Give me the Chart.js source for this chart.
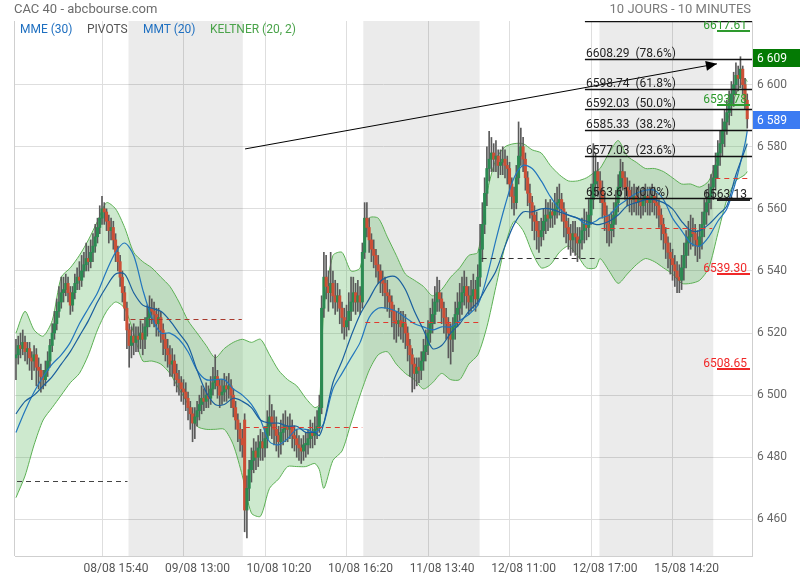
<!DOCTYPE html>
<html>
<head>
<meta charset="utf-8">
<title>CAC 40 - 10 jours</title>
<script src="https://cdn.jsdelivr.net/npm/chart.js"></script>
<style>
  body { margin: 0; background: #fff; font-family: Roboto, sans-serif; }
  #wrap { position: relative; width: 800px; height: 580px; }
  #wrap canvas { position: absolute; left: 0; top: 0; }
  .txt { position: absolute; white-space: pre; line-height: normal; }
  #title { left: 14px; top: 1px; font-size: 13px; color: #6c6c6c; }
  #period { right: 49px; top: 1px; font-size: 13px; color: #7a7a7a; }
  .leg { top: 22px; font-size: 12px; }
</style>
</head>
<body>
<div id="wrap">
  <canvas id="chart" width="800" height="580"></canvas>
  <div class="txt" id="title">CAC 40 - abcbourse.com</div>
  <div class="txt" id="period">10 JOURS - 10 MINUTES</div>
  <div class="txt leg" style="left:20px;color:#1e6fc0">MME (30)</div>
  <div class="txt leg" style="left:87px;color:#555">PIVOTS</div>
  <div class="txt leg" style="left:143px;color:#1e6fc0">MMT (20)</div>
  <div class="txt leg" style="left:210px;color:#4aa34a">KELTNER (20, 2)</div>
</div>

<script>
// candle index of the first bar (10 minute bars counted from 08/08 09:00)
const firstIdx = 2;

const closes = [
  // 08/08
  6513,6516,6515,6517,6514,6515,6512,6511,6513,6509,
  6508,6506,6505,6508,6511,6516,6520,6523,6527,6530,
  6533,6534,6536,6533,6529,6533,6536,6538,6537,6540,
  6542,6544,6543,6546,6548,6551,6554,6557,6560,6559,
  6556,6553,6554,6550,6546,6543,6538,6533,6528,6521,
  // 09/08
  6516,6519,6517,6519,6518,6520,6518,6522,6525,6528,
  6527,6526,6523,6525,6521,6518,6515,6513,6510,6511,
  6507,6505,6504,6502,6501,6499,6496,6494,6491,6493,
  6495,6497,6499,6498,6500,6499,6502,6504,6506,6503,
  6500,6501,6503,6502,6503,6500,6496,6492,6489,6486,
  6484,
  // 10/08
  6463,6470,6476,6479,6482,6480,6483,6485,6483,6486,
  6490,6493,6491,6489,6487,6485,6488,6489,6490,6489,
  6490,6487,6486,6484,6483,6482,6484,6484,6486,6488,
  6487,6489,6490,6496,6528,6538,6535,6533,6536,6532,
  6530,6532,6528,6525,6522,6524,6527,6530,6533,6530,
  6532,6530,6546,
  // 11/08
  6557,6554,6550,6547,6545,6542,6540,6537,6536,6533,
  6532,6530,6527,6524,6523,6524,6522,6523,6520,6516,
  6513,6510,6507,6509,6508,6511,6514,6516,6520,6523,
  6526,6530,6533,6531,6528,6525,6523,6520,6518,6522,
  6526,6528,6530,6533,6535,6532,6530,6532,6534,6531,
  6538,6547,
  // 12/08
  6555,6565,6573,6576,6578,6576,6577,6574,6575,6576,
  6574,6573,6568,6564,6562,6570,6577,6580,6576,6570,
  6565,6562,6558,6556,6553,6551,6553,6556,6558,6557,
  6559,6558,6560,6562,6563,6560,6556,6554,6552,6550,
  6552,6551,6549,6550,6553,6555,6554,6558,6563,6568,
  6572,6569,
  // 15/08
  6566,6562,6558,6555,6553,6555,6558,6562,6567,6572,
  6570,6567,6566,6564,6563,6564,6562,6563,6561,6563,
  6564,6562,6563,6564,6562,6561,6558,6555,6552,6549,
  6546,6544,6542,6540,6538,6537,6541,6545,6549,6551,
  6553,6552,6550,6548,6551,6555,6559,6562,6564,6567,
  6570,6574,
  // 16/08
  6578,6581,6585,6588,6591,6594,6597,6600,6603,6602,
  6605,6600,6595,6589
];

const opens = [
  // 08/08
  6512,6513,6516,6515,6517,6514,6515,6512,6511,6513,
  6509,6508,6506,6505,6508,6511,6516,6520,6523,6527,
  6530,6533,6534,6536,6533,6529,6533,6536,6538,6537,
  6540,6542,6544,6543,6546,6548,6551,6554,6557,6560,
  6559,6556,6553,6554,6550,6546,6543,6538,6533,6528,
  // 09/08
  6521,6516,6519,6517,6519,6518,6520,6518,6522,6525,
  6528,6527,6526,6523,6525,6521,6518,6515,6513,6510,
  6511,6507,6505,6504,6502,6501,6499,6496,6494,6491,
  6493,6495,6497,6499,6498,6500,6499,6502,6504,6506,
  6503,6500,6501,6503,6502,6503,6500,6496,6492,6489,
  6486,
  // 10/08
  6492,6463,6470,6476,6479,6482,6480,6483,6485,6483,
  6486,6490,6493,6491,6489,6487,6485,6488,6489,6490,
  6489,6490,6487,6486,6484,6483,6482,6484,6484,6486,
  6488,6487,6489,6490,6496,6528,6538,6535,6533,6536,
  6532,6530,6532,6528,6525,6522,6524,6527,6530,6533,
  6530,6532,6530,
  // 11/08
  6546,6557,6554,6550,6547,6545,6542,6540,6537,6536,
  6533,6532,6530,6527,6524,6523,6524,6522,6523,6520,
  6516,6513,6510,6507,6509,6508,6511,6514,6516,6520,
  6523,6526,6530,6533,6531,6528,6525,6523,6520,6518,
  6522,6526,6528,6530,6533,6535,6532,6530,6532,6534,
  6531,6538,
  // 12/08
  6547,6555,6565,6573,6576,6578,6576,6577,6574,6575,
  6576,6574,6573,6568,6564,6562,6570,6577,6580,6576,
  6570,6565,6562,6558,6556,6553,6551,6553,6556,6558,
  6557,6559,6558,6560,6562,6563,6560,6556,6554,6552,
  6550,6552,6551,6549,6550,6553,6555,6554,6558,6563,
  6568,6572,
  // 15/08
  6569,6566,6562,6558,6555,6553,6555,6558,6562,6567,
  6572,6570,6567,6566,6564,6563,6564,6562,6563,6561,
  6563,6564,6562,6563,6564,6562,6561,6558,6555,6552,
  6549,6546,6544,6542,6540,6538,6537,6541,6545,6549,
  6551,6553,6552,6550,6548,6551,6555,6559,6562,6564,
  6567,6570,
  // 16/08
  6574,6578,6581,6585,6588,6591,6594,6597,6600,6603,
  6602,6605,6600,6595
];

const highs = [
  6518,6519,6520,6521,6519,6517,6517,6514,6516,6515,
  6512,6510,6508,6511,6514,6518,6523,6527,6531,6535,
  6538,6538,6539,6538,6535,6535,6539,6541,6543,6545,
  6546,6549,6548,6550,6552,6555,6557,6561,6564,6562,
  6560,6558,6557,6556,6552,6548,6545,6540,6535,6530,

  6523,6522,6523,6522,6522,6524,6523,6525,6529,6532,
  6531,6530,6528,6528,6527,6523,6520,6518,6516,6515,
  6513,6510,6508,6506,6505,6504,6501,6498,6496,6496,
  6498,6500,6503,6502,6504,6503,6506,6509,6513,6508,
  6505,6505,6507,6506,6507,6505,6502,6498,6494,6491,
  6489,

  6494,6474,6479,6483,6486,6485,6487,6489,6488,6490,
  6495,6500,6497,6495,6493,6490,6492,6494,6495,6493,
  6494,6492,6490,6489,6487,6486,6487,6488,6489,6492,
  6491,6493,6495,6500,6532,6546,6545,6540,6546,6540,
  6537,6536,6534,6530,6528,6529,6533,6538,6538,6536,
  6537,6535,6549,

  6562,6562,6557,6552,6550,6547,6545,6542,6540,6538,
  6537,6534,6532,6529,6527,6528,6527,6527,6526,6522,
  6518,6515,6512,6512,6512,6514,6518,6521,6524,6528,
  6531,6535,6538,6537,6533,6530,6528,6525,6523,6525,
  6530,6533,6536,6538,6540,6538,6535,6537,6539,6537,
  6542,6555,

  6562,6570,6580,6585,6583,6581,6582,6579,6579,6580,
  6579,6577,6575,6570,6567,6574,6588,6586,6583,6578,
  6572,6568,6564,6561,6559,6556,6557,6560,6563,6562,
  6563,6562,6565,6567,6568,6565,6562,6559,6557,6555,
  6556,6556,6554,6554,6557,6560,6559,6563,6568,6581,
  6578,6575,

  6572,6569,6565,6561,6558,6559,6562,6566,6571,6576,
  6575,6572,6570,6569,6567,6568,6567,6567,6566,6567,
  6568,6567,6567,6568,6567,6565,6563,6560,6557,6554,
  6551,6549,6547,6545,6543,6542,6545,6549,6553,6556,
  6558,6557,6555,6553,6555,6559,6563,6566,6568,6571,
  6574,6578,

  6582,6585,6589,6592,6595,6598,6601,6604,6607,6606,
  6609,6606,6602,6597
];

const lows = [
  6505,6510,6512,6513,6511,6510,6508,6505,6508,6503,
  6502,6501,6502,6503,6506,6509,6514,6518,6521,6525,
  6528,6530,6532,6530,6526,6527,6531,6534,6534,6535,
  6538,6540,6540,6541,6543,6546,6549,6552,6555,6555,
  6553,6549,6550,6547,6543,6540,6535,6530,6524,6515,

  6509,6512,6513,6514,6514,6515,6513,6515,6519,6522,
  6523,6522,6519,6519,6517,6513,6511,6509,6506,6506,
  6503,6501,6500,6498,6497,6495,6492,6489,6485,6486,
  6490,6492,6494,6495,6496,6496,6497,6500,6502,6499,
  6496,6497,6498,6498,6499,6496,6493,6489,6485,6482,
  6480,

  6456,6454,6466,6472,6475,6476,6477,6479,6479,6480,
  6483,6487,6486,6484,6482,6480,6481,6484,6485,6485,
  6486,6483,6482,6480,6479,6478,6479,6480,6481,6483,
  6483,6484,6486,6488,6494,6525,6531,6527,6530,6528,
  6526,6527,6523,6520,6518,6519,6521,6524,6527,6526,
  6527,6526,6528,

  6544,6551,6546,6543,6541,6538,6536,6533,6532,6528,
  6527,6525,6522,6518,6517,6519,6518,6517,6515,6511,
  6506,6501,6502,6503,6504,6505,6508,6511,6513,6517,
  6520,6523,6527,6527,6523,6520,6518,6512,6510,6514,
  6518,6522,6524,6526,6529,6528,6526,6527,6528,6527,
  6529,6535,

  6543,6552,6561,6569,6572,6572,6572,6570,6571,6571,
  6570,6568,6564,6560,6558,6560,6568,6574,6572,6566,
  6561,6557,6553,6550,6547,6546,6548,6550,6552,6553,
  6554,6554,6555,6557,6558,6556,6551,6549,6547,6545,
  6546,6545,6543,6544,6547,6549,6550,6551,6555,6560,
  6564,6564,

  6562,6557,6553,6549,6548,6549,6551,6555,6559,6564,
  6566,6563,6561,6559,6558,6559,6558,6558,6557,6558,
  6559,6558,6558,6559,6558,6557,6554,6550,6547,6544,
  6541,6539,6537,6535,6533,6533,6534,6537,6541,6545,
  6547,6548,6545,6543,6544,6547,6551,6555,6558,6560,
  6563,6566,

  6570,6574,6577,6580,6584,6587,6590,6593,6597,6598,
  6599,6597,6592,6586
];

// indicator lines at these candle indices
const lineIdx = [
  2,6,10,14,18,22,26,30,34,38,42,46,50,
  54,58,62,66,70,74,78,82,86,90,94,98,102,
  106,110,114,118,122,126,130,134,136,138,142,146,150,154,
  158,162,166,170,174,178,182,186,190,194,198,202,206,
  210,214,218,222,226,230,234,238,242,246,250,254,258,
  260,264,268,272,276,280,284,288,292,296,300,304,308,312,
  316,320,324,325
];
const keltnerUp = [
  6520,6527,6521,6519,6524,6538,6541,6545,6550,6556,6562,6560,6554,
  6546,6543,6541,6538,6535,6530,6524,6520,6516,6512,6515,6517,6518,
  6517,6518,6513,6508,6505,6503,6499,6496,6497,6528,6545,6546,6540,6541,
  6557,6557,6551,6545,6539,6537,6535,6532,6534,6538,6541,6545,6546,
  6565,6576,6580,6581,6581,6579,6578,6574,6571,6569,6569,6570,6572,
  6573,6578,6582,6577,6575,6573,6573,6572,6570,6568,6568,6567,6569,6577,
  6588,6597,6602,6601
];
const keltnerLow = [
  6467,6474,6484,6492,6496,6500,6504,6507,6513,6521,6527,6530,6528,
  6520,6511,6511,6510,6507,6502,6497,6490,6489,6489,6489,6484,6474,
  6462,6461,6470,6473,6477,6477,6477,6478,6476,6470,6479,6482,6491,6500,
  6508,6513,6514,6510,6507,6505,6502,6504,6507,6505,6505,6510,6513,
  6522,6535,6548,6556,6553,6546,6541,6542,6546,6548,6545,6541,6541,
  6544,6540,6536,6539,6542,6544,6543,6541,6539,6536,6536,6537,6541,6552,
  6563,6569,6571,6572
];
const mmt20 = [
  6488,6495,6501,6506,6510,6513,6517,6523,6528,6533,6540,6546,6549,
  6545,6534,6525,6520,6520,6518,6514,6508,6505,6505,6505,6502,6500,
  6497,6492,6485,6484,6486,6489,6489,6488,6489,6491,6502,6507,6512,6517,
  6525,6528,6528,6527,6525,6523,6522,6521,6522,6522,6524,6526,6529,
  6538,6550,6561,6570,6574,6573,6569,6564,6560,6558,6557,6555,6556,
  6557,6558,6561,6563,6565,6566,6566,6563,6557,6553,6549,6548,6551,6556,
  6560,6569,6581,6585
];
const mme30 = [
  6494,6498,6500,6503,6506,6510,6514,6519,6524,6530,6535,6539,6539,
  6533,6529,6528,6527,6524,6520,6516,6508,6501,6497,6497,6499,6498,
  6496,6492,6491,6491,6490,6490,6488,6488,6487,6491,6504,6511,6519,6526,
  6531,6536,6538,6538,6534,6527,6521,6515,6516,6520,6523,6527,6530,
  6535,6540,6548,6555,6559,6559,6560,6560,6559,6558,6557,6556,6555,
  6555,6556,6558,6561,6562,6563,6563,6562,6560,6556,6553,6553,6555,6558,
  6561,6571,6579,6581
];

// trading days (candle index where each session begins), pivots per day
const dayEdges = [1.57, 51.7, 102.2, 155.4, 206.8, 259.7, 310.0, 327.1];
const pivotValues = [6472.3, 6524.5, 6489.7, 6523.6, 6544.2, 6553.8, 6570.0];

// fibonacci retracement
const fibFrom = 253.3;
const fibValues = [6620.46, 6608.29, 6598.74, 6592.03, 6585.33, 6577.03, 6563.61];
const fibPct = ['100.0%', '78.6%', '61.8%', '50.0%', '38.2%', '23.6%', '0.0%'];

// levels for the current session
const levelValues = [6617.61, 6593.78, 6563.13, 6539.30, 6508.65];

// trend line drawn on the chart
const trendX = [103.2, 311.6];
const trendY = [6579.3, 6606.7];

// last price tags on the axis
const tagValues = [6608.6, 6588.6];

const tickIdx = [40, 76, 112, 148, 184, 220, 256, 292];
const tickLabels = ['08/08 15:40', '09/08 13:00', '10/08 10:20', '10/08 16:20',
                    '11/08 13:40', '12/08 11:00', '12/08 17:00', '15/08 14:20'];
const yTicks = [6460, 6480, 6500, 6520, 6540, 6560, 6580, 6600];

// styles
const pivotColors = ['#444', '#a8392c', '#e03a2e', '#e03a2e', '#333', '#e03a2e', '#e03a2e'];
const levelColors = ['#2e9a2e', '#2e9a2e', '#222', '#f02828', '#f02828'];
const tagColors = ['#047a04', '#3b7bf2'];

function spaced(v) {
    return String(v).replace(/\B(?=(\d{3})+(?!\d))/g, ' ');
}

const overlays = {
    id: 'overlays',
    beforeDatasetsDraw(chart) {
        const { ctx, chartArea: a, scales: { x } } = chart;
        ctx.save();
        ctx.fillStyle = 'rgba(0,0,0,0.08)';
        for (let d = 1; d < dayEdges.length - 1; d += 2) {
            const x0 = x.getPixelForValue(dayEdges[d]);
            const x1 = x.getPixelForValue(dayEdges[d + 1]);
            ctx.fillRect(x0, a.top, x1 - x0, a.bottom - a.top);
        }
        ctx.restore();
    },
    afterDatasetsDraw(chart) {
        const { ctx, chartArea: a, scales: { x, y } } = chart;
        ctx.save();
        ctx.beginPath();
        ctx.rect(a.left, a.top, a.right - a.left, a.bottom - a.top);
        ctx.clip();

        // pivot lines, one per session
        ctx.lineWidth = 1;
        ctx.setLineDash([5, 4]);
        pivotValues.forEach(function (v, d) {
            const py = Math.round(y.getPixelForValue(v)) + 0.5;
            ctx.strokeStyle = pivotColors[d];
            ctx.beginPath();
            ctx.moveTo(x.getPixelForValue(dayEdges[d]) + 2, py);
            ctx.lineTo(x.getPixelForValue(dayEdges[d + 1]) - 1, py);
            ctx.stroke();
        });
        ctx.setLineDash([]);

        // trend line + arrow head
        const ax0 = x.getPixelForValue(trendX[0]), ay0 = y.getPixelForValue(trendY[0]);
        const ax1 = x.getPixelForValue(trendX[1]), ay1 = y.getPixelForValue(trendY[1]);
        ctx.strokeStyle = '#000';
        ctx.lineWidth = 1;
        ctx.beginPath();
        ctx.moveTo(ax0, ay0);
        ctx.lineTo(ax1, ay1);
        ctx.stroke();
        const ang = Math.atan2(ay1 - ay0, ax1 - ax0);
        const c = Math.cos(ang), s = Math.sin(ang);
        ctx.fillStyle = '#000';
        ctx.beginPath();
        ctx.moveTo(ax1, ay1);
        ctx.lineTo(ax1 - 11 * c + 5 * s, ay1 - 11 * s - 5 * c);
        ctx.lineTo(ax1 - 11 * c - 5 * s, ay1 - 11 * s + 5 * c);
        ctx.closePath();
        ctx.fill();

        // fibonacci retracement
        const fx = x.getPixelForValue(fibFrom);
        ctx.font = '12px Roboto';
        ctx.textAlign = 'left';
        ctx.textBaseline = 'alphabetic';
        fibValues.forEach(function (v, k) {
            const py = Math.round(y.getPixelForValue(v)) + 0.5;
            ctx.strokeStyle = '#111';
            ctx.lineWidth = 1.3;
            ctx.beginPath();
            ctx.moveTo(fx, py);
            ctx.lineTo(a.right, py);
            ctx.stroke();
            ctx.fillStyle = '#222';
            ctx.fillText(v.toFixed(2) + '  (' + fibPct[k] + ')', fx + 1, py - 3);
        });

        // session levels on the right
        ctx.textAlign = 'right';
        levelValues.forEach(function (v, k) {
            const py = Math.round(y.getPixelForValue(v)) + 0.5;
            ctx.strokeStyle = levelColors[k];
            ctx.lineWidth = 2;
            ctx.beginPath();
            ctx.moveTo(a.right - 35, py + 0.5);
            ctx.lineTo(a.right - 2, py + 0.5);
            ctx.stroke();
            ctx.fillStyle = levelColors[k];
            ctx.fillText(v.toFixed(2), a.right - 5, py - 2);
        });
        ctx.restore();
    },
    afterDraw(chart) {
        const { ctx, chartArea: a, scales: { y } } = chart;
        ctx.save();
        ctx.strokeStyle = '#cfcfcf';
        ctx.lineWidth = 1;
        ctx.beginPath();
        ctx.moveTo(a.left - 0.5, a.top);
        ctx.lineTo(a.left - 0.5, a.bottom);
        ctx.stroke();

        ctx.font = '12px Roboto';
        ctx.textAlign = 'left';
        ctx.textBaseline = 'middle';
        tagValues.forEach(function (v, k) {
            const py = Math.round(y.getPixelForValue(v));
            ctx.fillStyle = tagColors[k];
            ctx.fillRect(a.right + 1, py - 9, 48, 18);
            ctx.fillStyle = '#fff';
            ctx.fillText(spaced(Math.round(v)), a.right + 5, py + 1);
        });
        ctx.restore();
    }
};

const candleColors = closes.map(function (c, k) {
    return c >= opens[k] ? '#2b8a52' : '#cc4f36';
});

const ctx = document.getElementById('chart').getContext('2d');
new Chart(ctx, {
    type: 'bar',
    data: {
        datasets: [
            {
                type: 'line', label: 'keltnerUp',
                data: lineIdx.map(function (v, k) { return { x: v, y: keltnerUp[k] }; }),
                borderColor: 'rgb(92,176,84)', borderWidth: 1, pointRadius: 0,
                tension: 0.25, fill: false, order: 6
            },
            {
                type: 'line', label: 'keltnerLow',
                data: lineIdx.map(function (v, k) { return { x: v, y: keltnerLow[k] }; }),
                borderColor: 'rgb(92,176,84)', borderWidth: 1, pointRadius: 0,
                tension: 0.25, fill: '-1', backgroundColor: 'rgba(76,175,80,0.28)', order: 6
            },
            {
                type: 'bar', label: 'wicks',
                data: highs.map(function (h, k) { return { x: firstIdx + k, y: [lows[k], h] }; }),
                backgroundColor: '#5a5a5a', barThickness: 1, grouped: false, order: 4
            },
            {
                type: 'bar', label: 'bodies',
                data: closes.map(function (c, k) { return { x: firstIdx + k, y: [opens[k], c] }; }),
                backgroundColor: candleColors, barThickness: 2.4, minBarLength: 1.5,
                grouped: false, order: 3
            },
            {
                type: 'line', label: 'MMT (20)',
                data: lineIdx.map(function (v, k) { return { x: v, y: mmt20[k] }; }),
                borderColor: '#2276bd', borderWidth: 1.2, pointRadius: 0, tension: 0.3, order: 2
            },
            {
                type: 'line', label: 'MME (30)',
                data: lineIdx.map(function (v, k) { return { x: v, y: mme30[k] }; }),
                borderColor: '#1a5f9e', borderWidth: 1.2, pointRadius: 0, tension: 0.3, order: 1
            }
        ]
    },
    options: {
        responsive: false,
        animation: false,
        devicePixelRatio: 1,
        layout: { padding: { left: 15, top: 21, right: 0, bottom: 0 } },
        plugins: { legend: { display: false }, tooltip: { enabled: false } },
        scales: {
            x: {
                type: 'linear',
                min: dayEdges[0],
                max: dayEdges[dayEdges.length - 1],
                offset: false,
                grid: { color: '#dedede', offset: false, drawTicks: false },
                border: { color: '#cfcfcf' },
                afterBuildTicks: function (scale) {
                    scale.ticks = tickIdx.map(function (v) { return { value: v }; });
                },
                afterFit: function (scale) { scale.height = 24; },
                ticks: {
                    autoSkip: false, maxRotation: 0, padding: 6, labelOffset: 14,
                    color: '#555', font: { family: 'Roboto', size: 12 },
                    callback: function (v) { return tickLabels[tickIdx.indexOf(v)]; }
                }
            },
            y: {
                position: 'right',
                beginAtZero: false,
                min: 6448.2,
                max: 6620.5,
                grid: { color: '#dedede', drawTicks: false },
                border: { color: '#cfcfcf' },
                afterBuildTicks: function (scale) {
                    scale.ticks = yTicks.map(function (v) { return { value: v }; });
                },
                afterFit: function (scale) { scale.width = 48; },
                ticks: {
                    padding: 5, color: '#666', font: { family: 'Roboto', size: 12 },
                    callback: function (v) { return spaced(v); }
                }
            }
        }
    },
    plugins: [overlays]
});
</script>
</body>
</html>
